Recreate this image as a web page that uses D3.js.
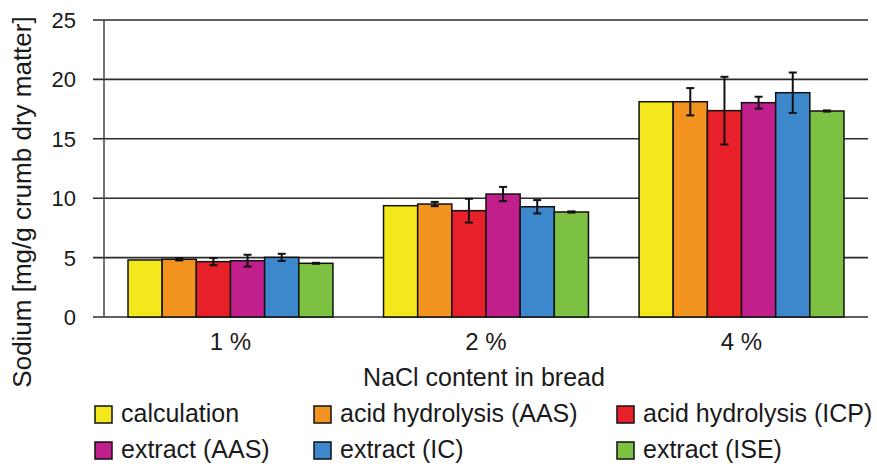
<!DOCTYPE html>
<html><head><meta charset="utf-8">
<script src="https://cdn.jsdelivr.net/npm/d3@7"></script>
<style>
html,body{margin:0;padding:0;background:#fff;}
text{font-family:"Liberation Sans",Arial,sans-serif;fill:#1a1a1a;}
</style></head>
<body><svg id="c" width="877" height="466"></svg>
<script>
const categories = ["1 %", "2 %", "4 %"];
const seriesNames = ["calculation", "acid hydrolysis (AAS)", "acid hydrolysis (ICP)", "extract (AAS)", "extract (IC)", "extract (ISE)"];
const seriesColors = ["#f2e81c", "#f3931f", "#e8202a", "#c11f8c", "#3d88cc", "#7dc142"];
// values per series, one per category
const calculation = [4.80, 9.37, 18.12];
const acidAAS      = [4.86, 9.51, 18.12];
const acidICP      = [4.66, 8.95, 17.37];
const extractAAS   = [4.74, 10.35, 18.04];
const extractIC    = [5.02, 9.28, 18.88];
const extractISE   = [4.52, 8.84, 17.34];
// standard deviations (error bar half-lengths)
const calculationErr = [0, 0, 0];
const acidAASErr     = [0.10, 0.18, 1.15];
const acidICPErr     = [0.30, 1.00, 2.85];
const extractAASErr  = [0.50, 0.60, 0.50];
const extractICErr   = [0.30, 0.56, 1.70];
const extractISEErr  = [0.04, 0.05, 0.05];
const yTicks = [0, 5, 10, 15, 20, 25];
const xTitle = "NaCl content in bread";
const yTitle = "Sodium [mg/g crumb dry matter]";

const values = [calculation, acidAAS, acidICP, extractAAS, extractIC, extractISE];
const errors = [calculationErr, acidAASErr, acidICPErr, extractAASErr, extractICErr, extractISEErr];

(function () {
const svg = d3.select("#c");
const mLeft = 104, mRight = 868, mTop = 20, mBottom = 317;

const y = d3.scaleLinear().domain([0, 25]).range([mBottom, mTop]);
const x0 = d3.scaleBand().domain(categories).range([mLeft, mRight]).paddingInner(0.198).paddingOuter(0.094);
const x1 = d3.scaleBand().domain(seriesNames).range([0, x0.bandwidth()]).padding(0);

// gridlines (extending left as tick marks)
svg.append("g").selectAll("line").data(yTicks).join("line")
  .attr("x1", mLeft - 11).attr("x2", mRight)
  .attr("y1", d => y(d)).attr("y2", d => y(d))
  .attr("stroke", "#2b2b2b").attr("stroke-width", 1.6);

// y axis line
svg.append("line").attr("x1", mLeft).attr("x2", mLeft).attr("y1", y(25)).attr("y2", y(0))
  .attr("stroke", "#444").attr("stroke-width", 1.5);

// tick labels
svg.append("g").selectAll("text").data(yTicks).join("text")
  .attr("x", 76).attr("y", d => y(d)).attr("dy", "0.36em")
  .attr("text-anchor", "end").attr("font-size", 22)
  .text(d => d);

// bars
const rows = [];
categories.forEach((c, ci) => seriesNames.forEach((s, si) => rows.push({c, s, si, v: values[si][ci], e: errors[si][ci]})));

svg.append("g").selectAll("rect").data(rows).join("rect")
  .attr("x", d => x0(d.c) + x1(d.s))
  .attr("y", d => y(d.v))
  .attr("width", x1.bandwidth())
  .attr("height", d => y(0) - y(d.v))
  .attr("fill", d => seriesColors[d.si])
  .attr("stroke", "#111").attr("stroke-width", 1.5);

// error bars
const eb = svg.append("g").attr("stroke", "#111").attr("stroke-width", 2);
rows.filter(d => d.e > 0).forEach(d => {
  const cx = x0(d.c) + x1(d.s) + x1.bandwidth() / 2;
  const y1 = y(d.v + d.e), y2 = y(d.v - d.e);
  eb.append("line").attr("x1", cx).attr("x2", cx).attr("y1", y1).attr("y2", y2);
  eb.append("line").attr("x1", cx - 4).attr("x2", cx + 4).attr("y1", y1).attr("y2", y1);
  eb.append("line").attr("x1", cx - 4).attr("x2", cx + 4).attr("y1", y2).attr("y2", y2);
});

// category labels
svg.append("g").selectAll("text").data(categories).join("text")
  .attr("x", d => x0(d) + x0.bandwidth() / 2).attr("y", 350)
  .attr("text-anchor", "middle").attr("font-size", 24)
  .text(d => d);

// axis titles
svg.append("text").attr("x", 484).attr("y", 386).attr("text-anchor", "middle")
  .attr("font-size", 25).text(xTitle);
svg.append("text").attr("transform", "translate(31,202) rotate(-90)")
  .attr("text-anchor", "middle").attr("font-size", 26).text(yTitle);

// legend
const colX = [95, 314, 617];
const rowY = [406, 442];
const lg = svg.append("g");
seriesNames.forEach((s, i) => {
  const cx = colX[i % 3], cy = rowY[Math.floor(i / 3)];
  lg.append("rect").attr("x", cx).attr("y", cy).attr("width", 17).attr("height", 17)
    .attr("fill", seriesColors[i]).attr("stroke", "#111").attr("stroke-width", 1.5);
  lg.append("text").attr("x", cx + 26).attr("y", cy + 16).attr("font-size", 25).text(s);
});
})();
</script></body></html>
